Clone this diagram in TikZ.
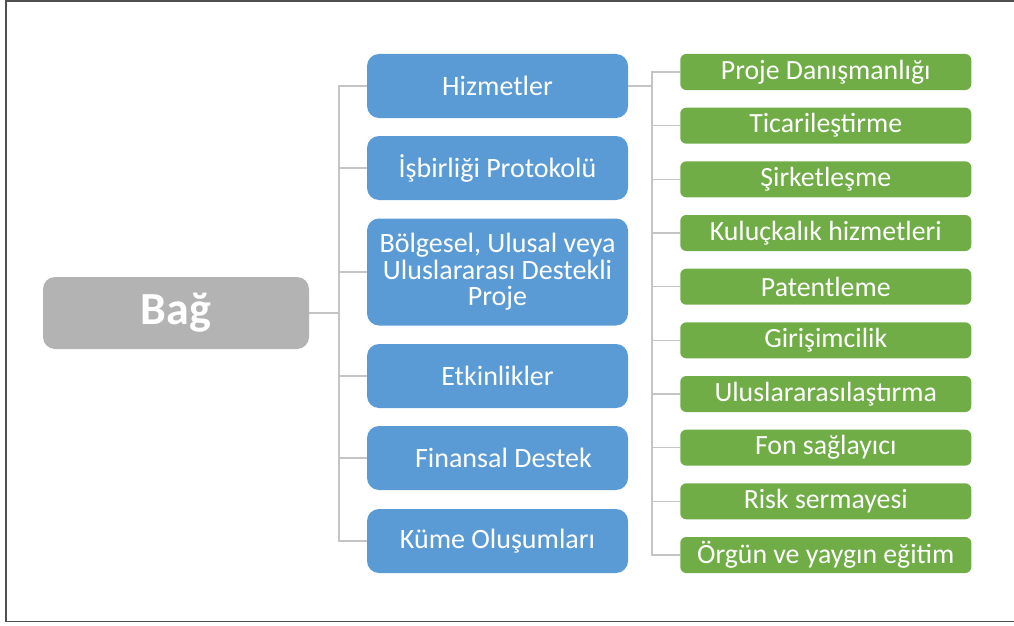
\documentclass[tikz,border=0pt]{standalone}
\usepackage{fontspec}
\setmainfont{Carlito}
\definecolor{rootgray}{HTML}{B3B3B3}
\definecolor{midblue}{HTML}{5B9BD5}
\definecolor{leafgreen}{HTML}{70AD47}
\definecolor{linkgray}{HTML}{C4C4C4}
\definecolor{framegray}{HTML}{505050}
\tikzset{
  rootbox/.style={fill=rootgray, rounded corners=12pt, minimum width=266pt, minimum height=72pt,
    text=white, font=\fontsize{46}{50}\selectfont\bfseries, inner sep=0pt},
  midbox/.style={fill=midblue, rounded corners=12pt, minimum width=261pt,
    text=white, font=\fontsize{28}{26.5}\selectfont, align=center, inner sep=0pt},
  leafbox/.style={fill=leafgreen, rounded corners=6pt, minimum width=291pt, minimum height=36pt,
    text=white, font=\fontsize{27.8}{28}\selectfont, inner sep=0pt},
  link/.style={draw=linkgray, line width=1.5pt}
}
\begin{document}
\begin{tikzpicture}[x=1pt,y=-1pt]
\useasboundingbox (0,0) rectangle (1014,626);
% outer frame (open on the right)
\draw[framegray, line width=1.6pt] (1014,0.8) -- (5.8,0.8) -- (5.8,621.6) -- (1014,621.6);

% root
\node[rootbox] (bag) at (176,313) {Bağ};

% middle level
\node[midbox, minimum height=64pt] (hiz) at (497.5,86) {Hizmetler};
\node[midbox, minimum height=64pt] (isb) at (497.5,168) {İşbirliği Protokolü};
\node[midbox, minimum height=107pt] (bol) at (497.5,272) {Bölgesel, Ulusal veya\\Uluslararası Destekli\\Proje};
\node[midbox, minimum height=64pt] (etk) at (497.5,376) {Etkinlikler};
\node[midbox, minimum height=64pt] (fin) at (497.5,458) {\hspace*{12pt}Finansal Destek};
\node[midbox, minimum height=64pt] (kume) at (497.5,541) {Küme Oluşumları};

% services
\foreach \t [count=\k from 0] in {Proje Danışmanlığı, Ticarileştirme, Şirketleşme,
  Kuluçkalık hizmetleri, Patentleme, Girişimcilik, Uluslararasılaştırma,
  Fon sağlayıcı, Risk sermayesi, Örgün ve yaygın eğitim}
  \node[leafbox] (g\k) at (825.75,72+53.667*\k) {\t};

% connectors root -> middle
\foreach \m in {hiz,isb,bol,etk,fin,kume}
  \draw[link] (bag.east) -- ++(30,0) |- (\m.west);

% connectors services
\foreach \k in {0,...,9}
  \draw[link] (hiz.east) -- ++(24,0) |- (g\k.west);
\end{tikzpicture}
\end{document}
